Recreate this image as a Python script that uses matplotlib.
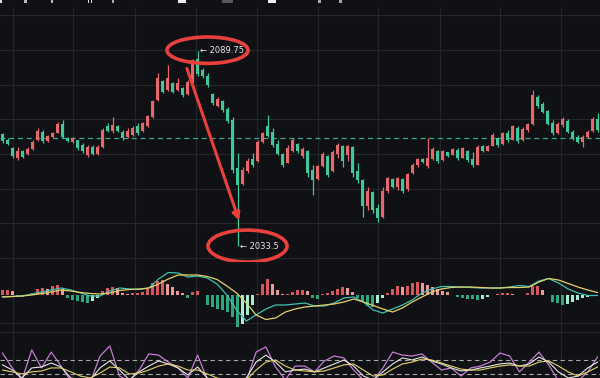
import numpy as np
import matplotlib
matplotlib.use("Agg")
import matplotlib.pyplot as plt
from matplotlib.patches import Ellipse, Rectangle, FancyArrowPatch

# ---------------- data ----------------
opens = [2065.8, 2064.2, 2061.8, 2059.0, 2060.8, 2060.0, 2061.5, 2064.0, 2066.5, 2063.8,
         2064.9, 2066.2, 2068.8, 2064.6, 2063.6, 2064.0, 2062.6, 2059.8, 2062.0, 2060.0,
         2062.0, 2068.0, 2066.6, 2068.2, 2066.5, 2064.8, 2065.5, 2068.0, 2066.6, 2068.2,
         2070.8, 2075.5, 2081.0, 2078.5, 2080.5, 2078.5, 2079.0, 2077.2, 2080.8, 2087.5,
         2084.3, 2082.5, 2077.3, 2074.0, 2075.3, 2073.0, 2069.8, 2056.0, 2051.5, 2055.0,
         2058.5, 2058.0, 2063.4, 2068.0, 2066.5, 2063.0, 2060.0, 2057.5, 2061.0, 2063.0,
         2059.5, 2061.0, 2055.5, 2052.8, 2056.6, 2059.5, 2055.0, 2060.0, 2062.3, 2059.8,
         2062.0, 2055.0, 2052.5, 2045.0, 2049.0, 2044.5, 2041.8, 2049.5, 2052.8, 2050.4,
         2052.8, 2049.8, 2054.5, 2056.8, 2058.6, 2056.5, 2058.5, 2061.0, 2058.3, 2060.5,
         2059.8, 2061.3, 2059.0, 2061.0, 2058.5, 2057.0, 2062.2, 2061.0, 2062.4, 2064.5,
         2062.8, 2066.0, 2064.2, 2067.5, 2064.0, 2067.0, 2068.8, 2076.5, 2074.5, 2072.3,
         2069.0, 2066.2, 2068.5, 2069.5, 2066.5, 2065.0, 2063.5, 2065.0, 2066.6, 2070.0]
highs = [2066.1, 2064.6, 2062.0, 2062.0, 2061.2, 2062.0, 2064.1, 2067.5, 2066.9, 2065.5,
         2066.4, 2069.3, 2069.8, 2064.9, 2064.9, 2064.1, 2063.2, 2062.6, 2062.6, 2062.6,
         2067.5, 2069.0, 2070.7, 2068.4, 2066.9, 2067.5, 2068.1, 2069.0, 2069.3, 2071.3,
         2075.6, 2083.4, 2081.4, 2085.7, 2080.8, 2081.9, 2079.3, 2081.4, 2087.5, 2089.75,
         2084.8, 2083.4, 2077.6, 2076.5, 2075.6, 2073.6, 2070.7, 2060.3, 2056.3, 2058.9,
         2060.3, 2064.1, 2066.4, 2071.3, 2067.5, 2064.1, 2060.3, 2062.6, 2064.6, 2063.2,
         2062.0, 2061.3, 2056.9, 2056.9, 2060.6, 2059.8, 2061.2, 2063.2, 2062.6, 2062.6,
         2062.3, 2057.5, 2052.8, 2050.5, 2049.3, 2045.5, 2050.5, 2053.4, 2053.1, 2053.4,
         2053.0, 2054.6, 2057.5, 2058.9, 2058.9, 2064.6, 2062.0, 2061.3, 2061.2, 2060.6,
         2061.8, 2061.8, 2062.0, 2061.2, 2060.6, 2062.6, 2062.6, 2062.6, 2066.1, 2064.9,
         2066.4, 2066.9, 2068.4, 2068.0, 2067.8, 2069.0, 2078.5, 2077.0, 2075.0, 2072.7,
         2069.8, 2069.3, 2070.7, 2070.0, 2066.9, 2065.5, 2065.5, 2066.9, 2070.7, 2071.8]
lows = [2063.2, 2062.6, 2058.9, 2058.3, 2058.9, 2059.7, 2061.2, 2063.8, 2063.2, 2063.5,
        2064.6, 2066.1, 2064.6, 2063.5, 2063.2, 2061.2, 2060.3, 2059.2, 2059.7, 2059.7,
        2061.8, 2066.4, 2066.1, 2066.4, 2064.1, 2064.6, 2065.2, 2065.5, 2066.4, 2067.8,
        2070.4, 2075.3, 2077.6, 2078.3, 2077.6, 2078.3, 2076.5, 2077.0, 2080.5, 2082.5,
        2082.0, 2079.3, 2074.1, 2073.6, 2072.1, 2069.0, 2054.6, 2033.5, 2051.2, 2054.6,
        2056.3, 2057.6, 2063.2, 2064.9, 2062.0, 2059.7, 2056.3, 2057.3, 2060.6, 2060.3,
        2058.9, 2053.4, 2048.2, 2052.5, 2056.3, 2053.4, 2054.8, 2058.9, 2056.3, 2058.0,
        2053.4, 2051.7, 2041.9, 2043.9, 2043.0, 2040.5, 2041.5, 2048.8, 2050.2, 2049.7,
        2048.8, 2049.5, 2054.2, 2056.3, 2057.5, 2056.0, 2058.3, 2057.5, 2058.0, 2059.2,
        2059.7, 2058.3, 2058.8, 2057.8, 2056.3, 2056.8, 2060.6, 2060.8, 2062.2, 2062.0,
        2062.5, 2063.5, 2064.0, 2063.2, 2063.8, 2066.4, 2068.5, 2073.3, 2071.8, 2068.4,
        2065.5, 2065.8, 2067.8, 2066.1, 2064.1, 2063.2, 2062.0, 2064.6, 2066.4, 2066.4]
closes = [2063.8, 2063.0, 2059.5, 2061.0, 2059.3, 2061.6, 2063.5, 2066.8, 2063.8, 2065.2,
          2066.0, 2068.8, 2065.0, 2063.9, 2064.6, 2061.8, 2060.8, 2062.0, 2060.0, 2062.0,
          2067.0, 2066.8, 2068.5, 2066.6, 2064.5, 2066.8, 2067.5, 2066.0, 2069.0, 2071.0,
          2075.3, 2082.0, 2078.0, 2082.0, 2078.0, 2080.5, 2077.0, 2080.8, 2087.0, 2083.0,
          2082.4, 2079.8, 2074.8, 2076.0, 2072.6, 2069.5, 2055.5, 2051.0, 2055.5, 2058.0,
          2056.8, 2063.5, 2066.0, 2065.3, 2062.5, 2060.0, 2056.8, 2061.8, 2064.0, 2061.0,
          2061.6, 2054.5, 2052.5, 2056.5, 2060.0, 2054.0, 2060.5, 2062.5, 2058.0, 2062.3,
          2054.5, 2052.5, 2045.0, 2049.5, 2044.0, 2041.5, 2049.5, 2053.0, 2050.6, 2053.0,
          2049.5, 2054.2, 2057.0, 2058.5, 2057.7, 2058.8, 2061.5, 2058.0, 2060.8, 2059.4,
          2061.4, 2058.8, 2061.8, 2058.2, 2056.8, 2062.0, 2061.0, 2062.3, 2065.5, 2062.5,
          2066.0, 2064.0, 2068.0, 2063.8, 2067.3, 2068.6, 2077.0, 2074.0, 2072.2, 2068.8,
          2066.0, 2068.8, 2070.2, 2066.5, 2064.6, 2063.6, 2065.0, 2066.5, 2070.0, 2067.0]

macd_hist = [0.5, 0.5, 0.4, -0.1, -0.2, -0.1, 0.2, 0.6, 0.7, 0.6,
             0.9, 1.0, 0.6, -0.3, -0.5, -0.6, -0.7, -0.75, -0.6, -0.3,
             0.4, 0.7, 0.8, 0.7, 0.2, 0.15, 0.2, 0.2, 0.3, 0.6,
             1.2, 1.4, 1.5, 1.1, 0.8, 0.4, 0.2, -0.3, 0.3, 0.4,
             0.05, -1.0, -1.2, -1.4, -1.5, -1.7, -2.2, -3.2, -2.9, -2.0,
             -1.0, 0.1, 1.1, 1.6, 1.1, 0.5, 0.1, 0.15, 0.3, 0.5,
             0.5, 0.4, -0.3, -0.4, 0.15, 0.2, 0.4, 0.6, 0.8, 0.7,
             0.3, -0.3, -0.7, -1.1, -1.2, -0.8, -0.3, 0.2, 0.6, 0.9,
             0.8, 0.9, 1.2, 1.3, 1.25, 1.0, 0.8, 0.6, 0.4, 0.3,
             0.05, -0.2, -0.3, -0.4, -0.4, -0.5, -0.4, -0.2, 0.05, 0.15,
             0.2, 0.2, 0.1, 0.05, 0.05, 0.2, 0.9, 0.9, 0.5, 0.05,
             -0.7, -0.8, -1.0, -0.9, -0.7, -0.5, -0.3, -0.2, -0.1, 0.05]
macd_dif = [-0.17, -0.15, -0.1, 0.1, 0.3, 0.5, 0.7, 0.5, 0.2, -0.1,
            -0.1, 0.4, 0.7, 0.6, 0.55, 0.7, 1.6, 2.25, 2.2, 1.8,
            1.9, 1.7, 1.1, 0.0, -1.5, -2.6, -2.0, -1.4, -1.0, -1.0,
            -0.9, -0.8, -1.1, -1.1, -0.8, -0.3, -0.2, -0.7, -1.5, -1.8,
            -1.4, -1.0, -0.5, 0.2, 0.6, 0.85, 0.85, 0.8, 0.75, 0.7,
            0.7, 0.7, 0.8, 0.95, 0.85, 1.4, 1.65, 1.2, 0.6, 0.2,
            -0.05, -0.05]
macd_dea = [-0.2, -0.15, -0.1, 0.0, 0.15, 0.3, 0.5, 0.4, 0.25, 0.15,
            0.1, 0.2, 0.45, 0.55, 0.6, 0.7, 1.1, 1.6, 2.0, 2.0,
            2.0, 1.85, 1.55, 0.9, 0.2, -0.8, -2.0, -2.45, -2.3, -1.7,
            -1.4, -1.2, -1.1, -1.0, -0.9, -0.7, -0.4, -0.7, -1.05, -1.4,
            -1.7, -1.3, -0.7, -0.2, 0.3, 0.6, 0.75, 0.8, 0.8, 0.75,
            0.7, 0.7, 0.75, 0.75, 0.8, 1.3, 1.65, 1.5, 1.15, 0.8,
            0.5, 0.25]
kdj_k = [59, 37, 3, 46, 50, 67, 50, 3, -5, -5,
         46, 76, 37, -5, 29, 54, 76, 63, 46, 16,
         50, 3, -10, -10, -10, 3, 71, 101, 71, 29,
         37, 41, 29, 46, 63, 80, 54, 11, -5, 29,
         63, 89, 80, 93, 76, 63, 46, 33, 37, 46,
         54, 63, 67, 54, 63, 93, 71, 29, 3, 11,
         46, 71]
kdj_d = [37, 29, 20, 29, 33, 46, 46, 29, 11, 3,
         24, 50, 46, 20, 24, 37, 54, 63, 54, 37,
         37, 20, 3, -5, -5, -5, 37, 71, 80, 54,
         37, 33, 29, 33, 46, 59, 63, 37, 11, 16,
         41, 63, 71, 84, 80, 67, 54, 41, 37, 37,
         46, 54, 59, 54, 54, 71, 76, 54, 29, 11,
         29, 50]
kdj_j = [110, 46, -5, 123, 46, 114, 54, -10, -15, -15,
         97, 140, 11, -10, 37, 106, 101, 71, 46, 3,
         101, -5, -15, -15, -15, -10, 114, 136, 50, -5,
         54, 54, 29, 76, 97, 89, 37, -5, -10, 46,
         114, 101, 97, 106, 71, 37, 46, 11, 46, 54,
         71, 110, 97, 29, 71, 114, 59, -10, -15, -10,
         29, 93]

price_grid = [2030, 2040, 2050, 2060, 2070, 2080, 2090, 2100]
time_grid = [2.1, 14.1, 26.5, 38.7, 50.9, 63.1, 75.1, 87.5, 99.5, 111.7]
last_price = 2064.6
kdj_levels = [80, 20]

# ---------------- style ----------------
BG = "#101114"
GRID = "#24262a"
UP = "#e5686b"
DOWN = "#40c79a"
ANN = "#e8413c"
W, H = 600, 378

fig = plt.figure(figsize=(6.0, 3.78), dpi=100)
fig.patch.set_facecolor(BG)


def px_axes(top, bottom):
    a = fig.add_axes([0, 1 - bottom / H, 1, (bottom - top) / H])
    a.set_facecolor(BG)
    for s in a.spines.values():
        s.set_visible(False)
    a.tick_params(length=0, labelbottom=False, labelleft=False)
    a.set_xticks(time_grid)
    a.grid(True, color=GRID, lw=0.8)
    a.set_axisbelow(True)
    return a


n = len(closes)
x = np.arange(n)
o = np.array(opens); c = np.array(closes)
hi = np.array(highs); lo = np.array(lows)
col = [UP if cc >= oo else DOWN for oo, cc in zip(o, c)]

# ---------------- main price panel ----------------
ax = px_axes(7, 262)
ax.set_xlim(-0.5, n - 0.5)
ax.set_ylim(2028.9, 2102.4)
ax.set_yticks(price_grid)
ax.vlines(x, lo, hi, colors=col, lw=0.9, zorder=3)
body = np.maximum(np.abs(c - o), 0.25)
ax.bar(x, body, bottom=np.minimum(o, c), width=0.62, color=col, lw=0, zorder=4)
ax.axhline(last_price, color="#3aa886", lw=0.9, ls=(0, (4, 3)), zorder=2)

hi_i = int(np.argmax(hi)); lo_i = int(np.argmin(lo))
ax.text(hi_i + 0.5, hi[hi_i], "\u2190 " + f"{hi[hi_i]:g}", color="#e8e8e8",
        fontsize=6, va="center", ha="left", zorder=6)
ax.text(lo_i + 0.4, lo[lo_i], "\u2190 " + f"{lo[lo_i]:g}", color="#e8e8e8",
        fontsize=6, va="center", ha="left", zorder=6)
ax.add_patch(Ellipse((hi_i + 2.0, hi[hi_i] + 0.2), 16.2, 7.6, fill=False,
                     ec=ANN, lw=2.6, zorder=7, clip_on=False))
ax.add_patch(Ellipse((lo_i + 2.0, lo[lo_i]), 15.8, 9.2, fill=False,
                     ec=ANN, lw=2.6, zorder=7, clip_on=False))
ax.add_patch(FancyArrowPatch((hi_i - 2.3, hi[hi_i] - 4.3), (lo_i + 0.5, lo[lo_i] + 6.6),
                             arrowstyle="-|>", mutation_scale=11, color=ANN,
                             lw=2.2, zorder=7, clip_on=False))

# ---------------- MACD panel ----------------
axm = px_axes(262, 330)
axm.set_xlim(-0.5, n - 0.5)
axm.set_ylim(-3.5, 3.3)
axm.set_yticks([-2.8])
h = np.array(macd_hist)
prev = np.concatenate([[0.0], h[:-1]])
hcol = []
for v, p in zip(h, prev):
    if v >= 0:
        hcol.append("#d9575c" if v >= p else "#eb9a9a")
    else:
        hcol.append("#2fa67b" if v <= p else "#a9ecd0")
axm.bar(x, h, width=0.55, color=hcol, lw=0, zorder=3)
xl = np.linspace(0, n - 1, len(macd_dif))
axm.plot(xl, macd_dif, color="#3fc0b0", lw=0.9, zorder=4)
axm.plot(xl, macd_dea, color="#e2d06a", lw=0.9, zorder=4)

# ---------------- KDJ panel ----------------
axk = px_axes(330, 378)
axk.set_xlim(-0.5, n - 0.5)
axk.set_ylim(2.8, 208.7)
axk.set_yticks([200])
for lv in kdj_levels:
    axk.axhline(lv, color="#a8a8a8", lw=0.8, ls=(0, (4, 3)), zorder=2)
xk = np.linspace(0, n - 1, len(kdj_j))
axk.plot(xk, kdj_j, color="#c47cd4", lw=0.9, zorder=4)
axk.plot(xk, kdj_k, color="#e6e6e6", lw=0.8, zorder=5)
axk.plot(xk, kdj_d, color="#e2d36b", lw=0.8, zorder=5)

# toolbar remnants at the very top
for x0, x1, cc in [(0, 2, "#dddddd"), (24, 27, "#bbbbbb"), (51, 53, "#bbbbbb"),
                   (88, 89, "#dddddd"), (91, 92, "#dddddd"), (112, 114, "#aaaaaa"),
                   (178, 186, "#eeeeee"), (222, 233, "#55575c"), (268, 276, "#eeeeee"),
                   (318, 321, "#aaaaaa"), (339, 342, "#aaaaaa")]:
    fig.add_artist(Rectangle((x0 / W, 1 - 3 / H), (x1 - x0) / W, 3 / H,
                             transform=fig.transFigure, color=cc, lw=0))

fig.savefig("out.png", dpi=100, facecolor=BG)
